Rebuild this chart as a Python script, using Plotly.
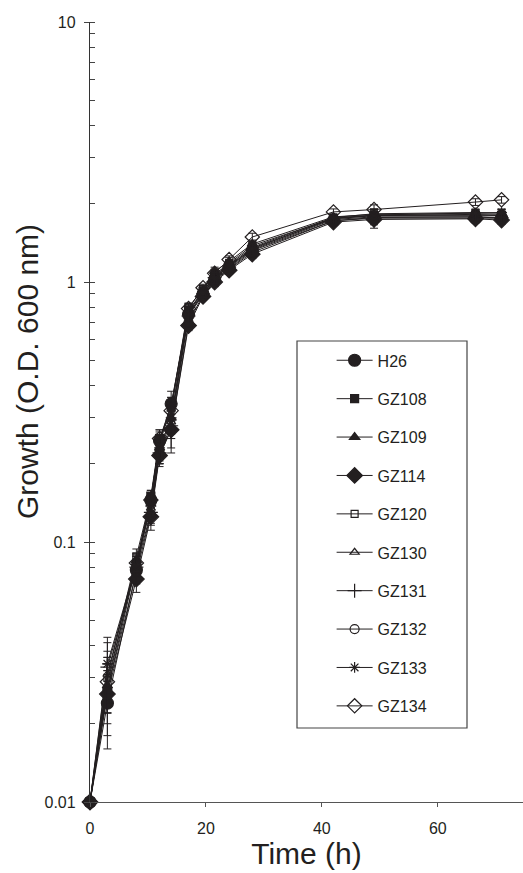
import plotly.graph_objects as go

time_h = [0, 3, 8, 10.5, 12, 14, 17, 19.5, 21.5, 24, 28, 42, 49, 66.5, 71]

strains = ["H26", "GZ108", "GZ109", "GZ114", "GZ120", "GZ130", "GZ131", "GZ132", "GZ133", "GZ134"]

od_H26 = [0.01, 0.024, 0.078, 0.145, 0.245, 0.34, 0.75, 0.90, 1.02, 1.13, 1.32, 1.72, 1.76, 1.76, 1.76]
od_GZ108 = [0.01, 0.027, 0.082, 0.150, 0.250, 0.33, 0.78, 0.92, 1.05, 1.15, 1.35, 1.75, 1.80, 1.80, 1.80]
od_GZ109 = [0.01, 0.028, 0.085, 0.140, 0.230, 0.30, 0.76, 0.93, 1.10, 1.20, 1.40, 1.78, 1.82, 1.83, 1.82]
od_GZ114 = [0.01, 0.026, 0.072, 0.125, 0.215, 0.27, 0.68, 0.88, 1.00, 1.11, 1.28, 1.70, 1.74, 1.75, 1.73]
od_GZ120 = [0.01, 0.030, 0.088, 0.148, 0.240, 0.33, 0.80, 0.94, 1.07, 1.18, 1.38, 1.76, 1.80, 1.82, 1.80]
od_GZ130 = [0.01, 0.031, 0.084, 0.135, 0.225, 0.29, 0.77, 0.91, 1.06, 1.17, 1.36, 1.77, 1.83, 1.85, 1.84]
od_GZ131 = [0.01, 0.033, 0.080, 0.130, 0.220, 0.28, 0.74, 0.90, 1.04, 1.14, 1.33, 1.74, 1.78, 1.78, 1.77]
od_GZ132 = [0.01, 0.027, 0.076, 0.128, 0.220, 0.27, 0.70, 0.89, 1.01, 1.12, 1.30, 1.72, 1.77, 1.78, 1.76]
od_GZ133 = [0.01, 0.034, 0.082, 0.140, 0.230, 0.30, 0.75, 0.91, 1.03, 1.15, 1.34, 1.76, 1.81, 1.84, 1.85]
od_GZ134 = [0.01, 0.029, 0.083, 0.145, 0.250, 0.32, 0.79, 0.95, 1.08, 1.22, 1.49, 1.86, 1.90, 2.03, 2.07]

err_H26 = [0, 0.008, 0.006, 0.010, 0.020, 0.040, 0.03, 0.03, 0.04, 0.04, 0.05, 0.05, 0.15, 0.06, 0.06]
err_GZ108 = [0, 0.005, 0.006, 0.008, 0.020, 0.030, 0.03, 0.03, 0.04, 0.04, 0.05, 0.05, 0.10, 0.06, 0.06]
err_GZ109 = [0, 0.006, 0.005, 0.010, 0.025, 0.050, 0.03, 0.03, 0.04, 0.04, 0.05, 0.05, 0.08, 0.06, 0.06]
err_GZ114 = [0, 0.008, 0.008, 0.014, 0.020, 0.050, 0.03, 0.03, 0.04, 0.04, 0.05, 0.05, 0.08, 0.06, 0.06]
err_GZ120 = [0, 0.006, 0.006, 0.010, 0.020, 0.030, 0.03, 0.03, 0.04, 0.04, 0.05, 0.05, 0.08, 0.06, 0.06]
err_GZ130 = [0, 0.007, 0.006, 0.010, 0.025, 0.030, 0.03, 0.03, 0.04, 0.04, 0.05, 0.05, 0.08, 0.06, 0.06]
err_GZ131 = [0, 0.008, 0.006, 0.012, 0.020, 0.030, 0.03, 0.03, 0.04, 0.04, 0.05, 0.05, 0.08, 0.06, 0.06]
err_GZ132 = [0, 0.007, 0.007, 0.012, 0.020, 0.040, 0.03, 0.03, 0.04, 0.04, 0.05, 0.05, 0.08, 0.06, 0.06]
err_GZ133 = [0, 0.009, 0.006, 0.010, 0.020, 0.030, 0.03, 0.03, 0.04, 0.04, 0.05, 0.05, 0.08, 0.06, 0.06]
err_GZ134 = [0, 0.007, 0.006, 0.010, 0.020, 0.030, 0.03, 0.03, 0.04, 0.04, 0.05, 0.05, 0.08, 0.06, 0.06]

values = [od_H26, od_GZ108, od_GZ109, od_GZ114, od_GZ120, od_GZ130, od_GZ131, od_GZ132, od_GZ133, od_GZ134]
errors = [err_H26, err_GZ108, err_GZ109, err_GZ114, err_GZ120, err_GZ130, err_GZ131, err_GZ132, err_GZ133, err_GZ134]
symbols = ["circle", "square", "triangle-up", "diamond", "square-open", "triangle-up-open",
           "cross-thin-open", "circle-open", "asterisk-open", "diamond-open"]
sizes = [12, 8, 9, 12, 7, 8, 10, 9, 9, 11]

INK = "#231f20"
FONT = "Liberation Sans, Arial, sans-serif"

fig = go.Figure()
for i, name in enumerate(strains):
    fig.add_trace(go.Scatter(
        x=time_h, y=values[i], name=name, mode="lines+markers",
        legendgroup=name,
        line=dict(color=INK, width=1),
        marker=dict(symbol=symbols[i], size=sizes[i], color=INK,
                    line=dict(color=INK, width=1.2)),
        error_y=dict(type="data", array=errors[i], visible=True, color=INK,
                     thickness=1, width=4),
        cliponaxis=False,
    ))

fig.update_layout(
    width=523, height=873,
    margin=dict(l=90, r=0, t=22, b=71),
    paper_bgcolor="white", plot_bgcolor="white",
    font=dict(family=FONT, color=INK, size=16),
    showlegend=True,
    legend=dict(x=0.558, y=0.588, xanchor="left", yanchor="top",
                bgcolor="rgba(0,0,0,0)", borderwidth=0,
                font=dict(size=16, family=FONT, color=INK),
                tracegroupgap=14.6, itemwidth=36),
    xaxis=dict(range=[0, 74.7], tickvals=[0, 20, 40, 60], ticks="outside", ticklen=4,
               tickcolor="#555", linecolor="#555", linewidth=1.3, showline=True,
               showgrid=False, zeroline=False, tickfont=dict(size=16),
               ticklabelstandoff=8,
               title=dict(text="Time (h)", font=dict(size=30), standoff=4)),
    yaxis=dict(type="log", range=[-2, 1], tickvals=[0.01, 0.1, 1, 10],
               ticktext=["0.01", "0.1", "1", "10"], ticks="outside", ticklen=5,
               tickcolor="#444", linecolor="#333", linewidth=1.3, showline=True,
               showgrid=False, zeroline=False, tickfont=dict(size=16),
               ticklabelstandoff=5,
               minor=dict(ticks="inside", ticklen=5, dtick="D1", tickcolor="#444",
                          showgrid=False)),
    yaxis2=dict(type="log", range=[-2, 1], overlaying="y", anchor="x", side="left",
                tickvals=[0.01, 0.1, 1, 10], ticks="inside", ticklen=5,
                tickcolor="#444", showticklabels=False, showline=False,
                showgrid=False, zeroline=False),
)

# legend frame
fig.add_shape(type="rect", xref="paper", yref="paper",
              x0=(297 - 90) / 433, x1=(467 - 90) / 433,
              y0=(802 - 728) / 780, y1=(802 - 341) / 780,
              line=dict(color="#444", width=1.2), fillcolor="rgba(0,0,0,0)", layer="below")

fig.add_annotation(text="Growth (O.D. 600 nm)", textangle=-90, showarrow=False,
                   xref="paper", yref="paper", x=(28 - 90) / 433, y=(802 - 372) / 780,
                   xanchor="center", yanchor="middle", font=dict(size=30, family=FONT, color=INK))

fig.write_html("out.html")
